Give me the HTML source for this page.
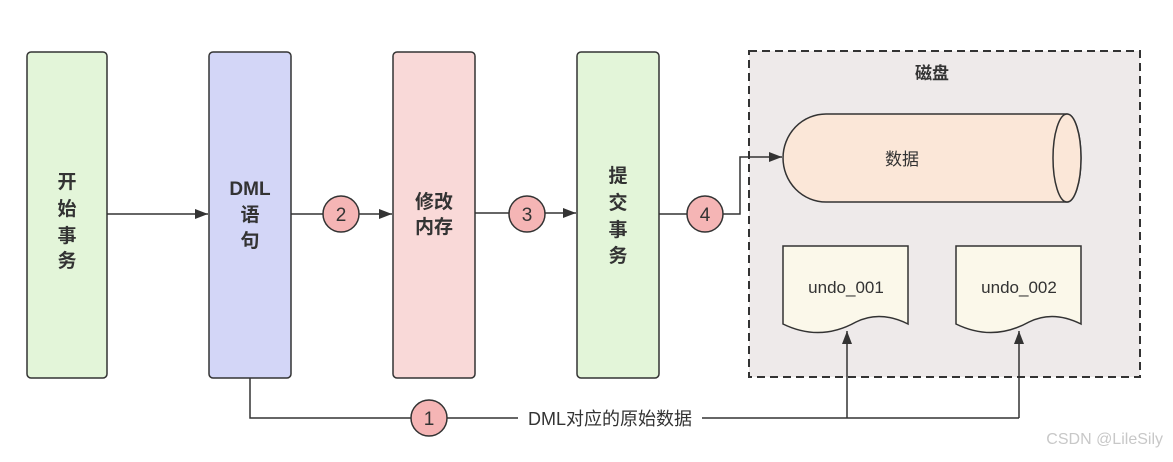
<!DOCTYPE html>
<html><head><meta charset="utf-8"><style>
body{margin:0;background:#fff;}
svg text{font-family:"Liberation Sans","Noto Sans CJK SC",sans-serif;fill:#333;}
</style></head><body>
<svg width="1173" height="457" viewBox="0 0 1173 457" xmlns="http://www.w3.org/2000/svg">
<defs><marker id="a" markerWidth="14" markerHeight="12" refX="13" refY="5" orient="auto" markerUnits="userSpaceOnUse"><path d="M0,0 L13,5 L0,10 Z" fill="#333"/></marker></defs>
<rect x="749" y="51" width="391" height="326" fill="#eeeaea" stroke="#333" stroke-width="2" stroke-dasharray="8,5"/>
<text x="932" y="79" font-size="17" font-weight="bold" text-anchor="middle">磁盘</text>
<rect x="27" y="52" width="80" height="326" rx="4" fill="#e3f5d9" stroke="#333" stroke-width="1.5"/>
<rect x="209" y="52" width="82" height="326" rx="4" fill="#d3d6f7" stroke="#333" stroke-width="1.5"/>
<rect x="393" y="52" width="82" height="326" rx="4" fill="#f9d9d8" stroke="#333" stroke-width="1.5"/>
<rect x="577" y="52" width="82" height="326" rx="4" fill="#e3f5d9" stroke="#333" stroke-width="1.5"/>
<g font-size="19" font-weight="bold" text-anchor="middle">
<text x="67" y="188">开</text><text x="67" y="215">始</text><text x="67" y="242">事</text><text x="67" y="267">务</text>
<text x="250" y="195">DML</text><text x="250" y="221">语</text><text x="250" y="247">句</text>
<text x="434" y="208">修改</text><text x="434" y="233">内存</text>
<text x="618" y="182">提</text><text x="618" y="209">交</text><text x="618" y="236">事</text><text x="618" y="262">务</text>
</g>
<g stroke="#333" stroke-width="1.5" fill="none">
<line x1="107" y1="214" x2="208" y2="214" marker-end="url(#a)"/>
<line x1="291" y1="214" x2="392" y2="214" marker-end="url(#a)"/>
<line x1="475" y1="213" x2="576" y2="213" marker-end="url(#a)"/>
<polyline points="659,214 740,214 740,157 782,157" marker-end="url(#a)"/>
<polyline points="250,378 250,418 1019,418"/>
<line x1="847" y1="418" x2="847" y2="331" marker-end="url(#a)"/>
<line x1="1019" y1="418" x2="1019" y2="331" marker-end="url(#a)"/>
</g>
<path d="M826,114 L1067,114 A14,44 0 0 1 1067,202 L826,202 A43,44 0 0 1 826,114 Z" fill="#fbe7d8" stroke="#333" stroke-width="1.5"/>
<ellipse cx="1067" cy="158" rx="14" ry="44" fill="#fbe7d8" stroke="#333" stroke-width="1.5"/>
<text x="902" y="165" font-size="17" text-anchor="middle">数据</text>
<path d="M783,246 H908 V324 Q880,310 856,322 Q820,342 783,324 Z" fill="#fbf8ea" stroke="#333" stroke-width="1.5"/>
<path d="M956,246 H1081 V324 Q1053,310 1029,322 Q993,342 956,324 Z" fill="#fbf8ea" stroke="#333" stroke-width="1.5"/>
<text x="846" y="293" font-size="17" text-anchor="middle">undo_001</text>
<text x="1019" y="293" font-size="17" text-anchor="middle">undo_002</text>
<rect x="518" y="408" width="184" height="22" fill="#fff"/>
<text x="610" y="425" font-size="18" text-anchor="middle">DML对应的原始数据</text>
<g fill="#f5b5b5" stroke="#333" stroke-width="1.5">
<circle cx="341" cy="214" r="18"/><circle cx="527" cy="214" r="18"/><circle cx="705" cy="214" r="18"/><circle cx="429" cy="418" r="18"/>
</g>
<g font-size="19" text-anchor="middle">
<text x="341" y="221">2</text><text x="527" y="221">3</text><text x="705" y="221">4</text><text x="429" y="425">1</text>
</g>
<text x="1163" y="444" font-size="16" text-anchor="end" style="fill:#c8c8c8">CSDN @LileSily</text>
</svg>
</body></html>
